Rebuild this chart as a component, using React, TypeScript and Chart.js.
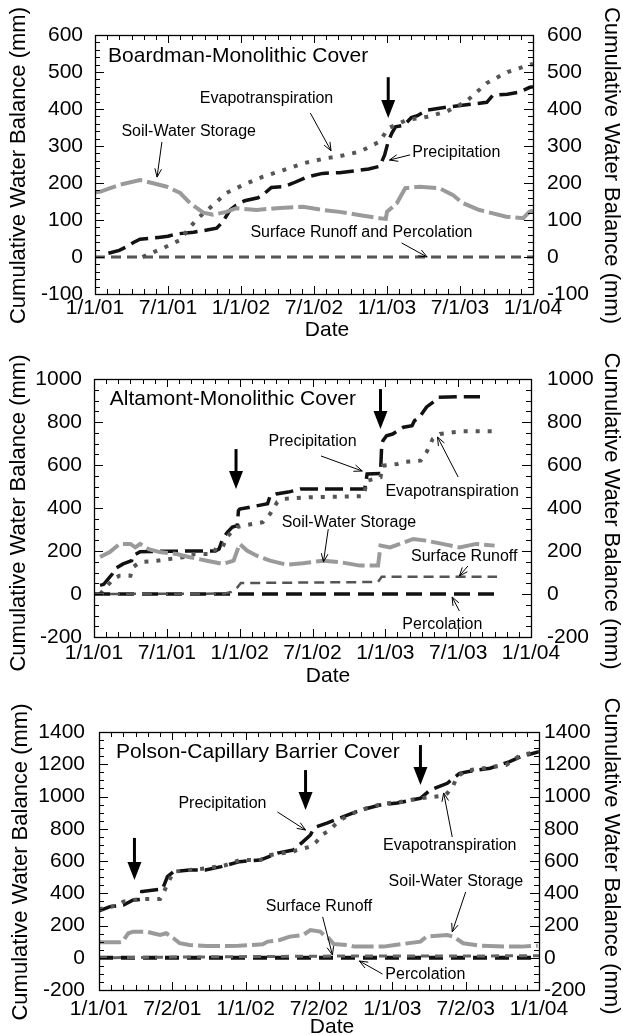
import React, { useEffect, useRef } from "react";
import { Chart, registerables } from "chart.js";

Chart.register(...registerables);

const FONT_FAMILY = "'Liberation Sans', Arial, Helvetica, sans-serif";

// ---------- shared text ----------
const xLabelsJul1 = ["1/1/01", "7/1/01", "1/1/02", "7/1/02", "1/1/03", "7/1/03", "1/1/04"];
const xLabelsJul2 = ["1/1/01", "7/2/01", "1/1/02", "7/2/02", "1/1/03", "7/2/03", "1/1/04"];
const yTitle = "Cumulative Water Balance (mm)";
const xTitle = "Date";

// x values are months since 1/1/01, y values are mm

// ---------- Boardman-Monolithic Cover ----------
const boardmanPrecipMonths = [1.1, 2.0, 2.6, 3.2, 3.7, 5.2, 6.0, 6.6, 8.1, 9.2, 10.0, 10.5, 11.1, 11.6, 12.3, 13.4, 13.8, 14.5, 15.5, 16.3, 17.4, 18.7, 20.1, 21.4, 22.5, 23.4, 23.8, 24.1, 24.4, 24.7, 25.4, 26.0, 26.5, 27.3, 28.9, 30.2, 31.0, 32.2, 32.7, 33.9, 34.9, 35.7, 36.0];
const boardmanPrecipMm = [10, 18, 28, 40, 48, 53, 56, 62, 67, 73, 78, 95, 127, 140, 152, 160, 168, 188, 190, 200, 216, 226, 228, 233, 238, 245, 275, 312, 335, 352, 356, 377, 382, 397, 405, 410, 413, 418, 437, 440, 446, 458, 460];
const boardmanEtMonths = [3.9, 5.6, 7.0, 7.8, 8.6, 9.7, 10.8, 12.2, 13.8, 15.5, 17.1, 19.0, 19.9, 21.8, 23.4, 24.1, 25.6, 27.3, 28.9, 30.5, 32.2, 33.9, 35.7, 36.0];
const boardmanEtMm = [0, 24, 46, 81, 109, 140, 173, 195, 217, 235, 253, 267, 271, 285, 312, 348, 370, 379, 393, 420, 470, 500, 519, 522];
const boardmanStorageMonths = [0, 0.4, 2.0, 3.7, 4.7, 5.9, 7.0, 7.8, 8.9, 9.7, 10.8, 11.6, 13.3, 14.9, 17.1, 18.8, 20.1, 21.8, 23.4, 23.9, 24.0, 24.8, 25.5, 26.7, 28.3, 29.4, 30.2, 31.6, 33.8, 35.2, 35.7, 36.0];
const boardmanStorageMm = [175, 176, 195, 208, 200, 190, 173, 146, 120, 114, 122, 132, 127, 132, 136, 127, 122, 113, 105, 103, 122, 145, 186, 190, 186, 168, 146, 127, 109, 105, 122, 125];
const boardmanRunoffMonths = [0, 36];
const boardmanRunoffMm = [0, 0];
const boardmanPercMonths = [0, 36];
const boardmanPercMm = [0, 0];

// ---------- Altamont-Monolithic Cover ----------
const altamontPrecipMonths = [0.5, 0.8, 1.5, 1.7, 2.4, 3.1, 3.2, 3.8, 4.9, 6.9, 8.1, 10.0, 10.3, 10.6, 11.0, 11.4, 11.8, 11.9, 12.0, 13.5, 14.3, 14.5, 15.0, 16.0, 17.0, 22.3, 22.5, 23.6, 23.7, 23.8, 24.1, 24.6, 25.5, 26.2, 26.4, 26.8, 27.4, 28.1, 28.4, 29.9, 31.8];
const altamontPrecipMm = [40, 45, 93, 116, 140, 155, 178, 197, 198, 199, 200, 200, 209, 256, 288, 311, 318, 388, 395, 411, 420, 455, 465, 474, 488, 488, 558, 560, 690, 713, 736, 744, 776, 783, 806, 822, 870, 899, 915, 918, 918];
const altamontEtMonths = [0.5, 1.0, 1.6, 2.1, 3.0, 3.2, 3.8, 5.2, 7.3, 7.9, 9.8, 10.1, 10.6, 10.9, 11.8, 12.3, 13.9, 14.5, 15.1, 15.6, 17.8, 19.5, 22.2, 22.5, 23.6, 23.8, 25.0, 25.5, 26.9, 27.4, 27.9, 28.5, 29.6, 30.4, 32.9];
const altamontEtMm = [0, 32, 70, 85, 85, 125, 148, 155, 171, 186, 186, 217, 217, 264, 311, 318, 334, 372, 428, 442, 450, 452, 455, 527, 543, 597, 605, 614, 620, 660, 721, 744, 752, 757, 757];
const altamontStorageMonths = [0.5, 1.3, 2.1, 3.0, 3.4, 3.8, 4.5, 5.4, 6.8, 7.9, 9.3, 10.6, 11.5, 12.0, 12.6, 13.4, 14.5, 15.9, 17.2, 18.9, 20.3, 21.9, 23.4, 23.6, 24.4, 25.2, 26.3, 27.4, 28.7, 30.1, 31.5, 33.0];
const altamontStorageMm = [172, 195, 233, 233, 217, 233, 209, 195, 186, 171, 155, 140, 155, 233, 202, 178, 155, 136, 143, 155, 148, 132, 132, 225, 217, 233, 256, 248, 233, 217, 233, 225];
const altamontRunoffMonths = [0, 10.8, 11.3, 11.8, 12.1, 23.4, 23.7, 33.2];
const altamontRunoffMm = [0, 2, 10, 30, 51, 56, 80, 80];
const altamontPercMonths = [0, 33.2];
const altamontPercMm = [0, 0];

// ---------- Polson-Capillary Barrier Cover ----------
const polsonPrecipMonths = [0, 0.9, 2.0, 2.8, 3.4, 3.5, 5.2, 5.6, 6.1, 7.4, 8.7, 10.0, 11.5, 13.2, 14.6, 15.9, 16.7, 17.3, 17.5, 17.8, 18.7, 20.0, 21.4, 23.0, 24.4, 26.3, 27.1, 28.5, 29.5, 30.9, 32.0, 33.6, 34.5, 36.0];
const polsonPrecipMm = [290, 317, 327, 358, 362, 410, 426, 503, 534, 544, 544, 565, 596, 606, 649, 668, 720, 761, 792, 813, 836, 875, 916, 947, 960, 989, 1040, 1082, 1144, 1164, 1175, 1216, 1247, 1278];
const polsonEtMonths = [0, 1.6, 2.0, 3.4, 5.0, 5.2, 5.5, 6.1, 7.4, 8.8, 10.4, 11.5, 13.2, 14.0, 15.9, 16.2, 17.3, 17.8, 18.3, 18.9, 19.5, 20.3, 21.4, 23.3, 24.2, 26.3, 28.2, 28.5, 29.0, 29.3, 30.1, 30.4, 33.3, 34.5, 36.0];
const polsonEtMm = [300, 327, 348, 365, 365, 389, 441, 534, 544, 555, 575, 606, 606, 637, 658, 668, 689, 720, 765, 792, 840, 880, 916, 957, 960, 989, 1005, 1020, 1071, 1123, 1164, 1164, 1195, 1257, 1278];
const polsonStorageMonths = [0, 1.7, 1.9, 2.4, 2.8, 3.9, 4.4, 5.0, 5.5, 6.1, 6.6, 7.4, 8.8, 10.5, 11.4, 13.4, 13.8, 14.8, 15.6, 16.7, 17.3, 18.1, 18.4, 18.8, 19.2, 20.3, 20.9, 23.3, 24.2, 26.3, 26.8, 28.5, 29.0, 29.8, 31.2, 33.3, 34.5, 35.9];
const polsonStorageMm = [96, 96, 98, 152, 162, 162, 152, 141, 152, 121, 90, 79, 73, 73, 75, 83, 100, 110, 131, 141, 172, 162, 141, 121, 85, 79, 69, 69, 79, 100, 131, 141, 131, 90, 75, 69, 69, 75];
const polsonRunoffMonths = [0, 6, 18, 36];
const polsonRunoffMm = [0, 4, 10, 12];
const polsonPercMonths = [0, 36];
const polsonPercMm = [0, 0];

// ---------- styles ----------
type LineStyle = { color: string; width: number; dash: number[] };
const precipStyle: LineStyle = { color: "#111111", width: 3.5, dash: [18, 7] };
const etStyle: LineStyle = { color: "#555555", width: 4, dash: [4, 8] };
const storageStyle: LineStyle = { color: "#9a9a9a", width: 4, dash: [22, 5] };
const runoffStyle: LineStyle = { color: "#555555", width: 2.5, dash: [10, 6] };
const percStyle: LineStyle = { color: "#111111", width: 2.5, dash: [10, 6] };
const percStyleHeavy: LineStyle = { color: "#111111", width: 3.5, dash: [16, 8] };
const runoffStyleLight: LineStyle = { color: "#666666", width: 3, dash: [8, 6] };

type SeriesDef = { label: string; months: number[]; mm: number[]; style: LineStyle };
type Note = { text: string; x: number; y: number; size: number; align: CanvasTextAlign };
type Pointer = { from: [number, number]; to: [number, number] };
type BigArrow = { x: number; top: number; tip: number };

type PanelCfg = {
  top: number; leftW: number; rightW: number; bottomH: number;
  yMin: number; yMax: number; yStep: number; yMinor: number;
  xLabels: string[];
  leftLabelPad: number; rightLabelPad: number; xLabelPad: number;
  leftTitleX: number; rightTitleX: number; leftTitleDy: number; rightTitleDy: number;
  dateX: number; dateY: number;
  series: SeriesDef[];
  notes: Note[]; pointers: Pointer[]; bigArrows: BigArrow[];
};

const boardman: PanelCfg = {
  top: 35, leftW: 95, rightW: 90, bottomH: 51,
  yMin: -100, yMax: 600, yStep: 100, yMinor: 20,
  xLabels: xLabelsJul1,
  leftLabelPad: 12, rightLabelPad: 14, xLabelPad: 2,
  leftTitleX: 19, rightTitleX: 611, leftTitleDy: 1, rightTitleDy: 1,
  dateX: 327, dateY: 330,
  series: [
    { label: "Soil-Water Storage", months: boardmanStorageMonths, mm: boardmanStorageMm, style: storageStyle },
    { label: "Surface Runoff", months: boardmanRunoffMonths, mm: boardmanRunoffMm, style: runoffStyle },
    { label: "Percolation", months: boardmanPercMonths, mm: boardmanPercMm, style: percStyle },
    { label: "Evapotranspiration", months: boardmanEtMonths, mm: boardmanEtMm, style: etStyle },
    { label: "Precipitation", months: boardmanPrecipMonths, mm: boardmanPrecipMm, style: precipStyle },
  ],
  notes: [
    { text: "Boardman-Monolithic Cover", x: 1.07, y: 543, size: 21, align: "left" },
    { text: "Evapotranspiration", x: 14.1, y: 427, size: 16, align: "center" },
    { text: "Soil-Water Storage", x: 7.7, y: 338, size: 16, align: "center" },
    { text: "Precipitation", x: 29.7, y: 281, size: 16, align: "center" },
    { text: "Surface Runoff and Percolation", x: 21.9, y: 65, size: 16, align: "center" },
  ],
  pointers: [
    { from: [17.7, 389], to: [19.4, 287] },
    { from: [5.5, 311], to: [5.1, 216] },
    { from: [25.9, 276], to: [24.2, 262] },
    { from: [25.2, 38], to: [27.3, 0] },
  ],
  bigArrows: [{ x: 24.1, top: 486, tip: 376 }],
};

const altamont: PanelCfg = {
  top: 34, leftW: 94, rightW: 92, bottomH: 53,
  yMin: -200, yMax: 1000, yStep: 200, yMinor: 50,
  xLabels: xLabelsJul1,
  leftLabelPad: 12, rightLabelPad: 16, xLabelPad: 4,
  leftTitleX: 19, rightTitleX: 611, leftTitleDy: 5, rightTitleDy: 3,
  dateX: 328, dateY: 331,
  series: [
    { label: "Soil-Water Storage", months: altamontStorageMonths, mm: altamontStorageMm, style: storageStyle },
    { label: "Surface Runoff", months: altamontRunoffMonths, mm: altamontRunoffMm, style: runoffStyle },
    { label: "Percolation", months: altamontPercMonths, mm: altamontPercMm, style: percStyleHeavy },
    { label: "Evapotranspiration", months: altamontEtMonths, mm: altamontEtMm, style: etStyle },
    { label: "Precipitation", months: altamontPrecipMonths, mm: altamontPrecipMm, style: precipStyle },
  ],
  notes: [
    { text: "Altamont-Monolithic Cover", x: 1.3, y: 907, size: 21, align: "left" },
    { text: "Precipitation", x: 18.0, y: 707, size: 16, align: "center" },
    { text: "Evapotranspiration", x: 29.5, y: 474, size: 16, align: "center" },
    { text: "Soil-Water Storage", x: 21.0, y: 330, size: 16, align: "center" },
    { text: "Surface Runoff", x: 30.5, y: 172, size: 16, align: "center" },
    { text: "Percolation", x: 28.7, y: -140, size: 16, align: "center" },
  ],
  pointers: [
    { from: [18.7, 642], to: [22.1, 572] },
    { from: [30.0, 544], to: [28.3, 730] },
    { from: [19.3, 302], to: [18.9, 149] },
    { from: [30.8, 130], to: [30.1, 84] },
    { from: [30.1, -79], to: [29.5, -14] },
  ],
  bigArrows: [
    { x: 11.7, top: 674, tip: 488 },
    { x: 23.6, top: 953, tip: 767 },
  ],
};

const polson: PanelCfg = {
  top: 42, leftW: 99, rightW: 84, bottomH: 45,
  yMin: -200, yMax: 1400, yStep: 200, yMinor: 50,
  xLabels: xLabelsJul2,
  leftLabelPad: 14, rightLabelPad: 5, xLabelPad: 7,
  leftTitleX: 21, rightTitleX: 611, leftTitleDy: 1, rightTitleDy: -5,
  dateX: 332, dateY: 337,
  series: [
    { label: "Soil-Water Storage", months: polsonStorageMonths, mm: polsonStorageMm, style: storageStyle },
    { label: "Surface Runoff", months: polsonRunoffMonths, mm: polsonRunoffMm, style: runoffStyleLight },
    { label: "Percolation", months: polsonPercMonths, mm: polsonPercMm, style: { color: "#111111", width: 4, dash: [14, 8] } },
    { label: "Evapotranspiration", months: polsonEtMonths, mm: polsonEtMm, style: etStyle },
    { label: "Precipitation", months: polsonPrecipMonths, mm: polsonPrecipMm, style: precipStyle },
  ],
  notes: [
    { text: "Polson-Capillary Barrier Cover", x: 1.4, y: 1276, size: 21, align: "left" },
    { text: "Precipitation", x: 10.1, y: 954, size: 16, align: "center" },
    { text: "Evapotranspiration", x: 28.7, y: 693, size: 16, align: "center" },
    { text: "Soil-Water Storage", x: 29.2, y: 470, size: 16, align: "center" },
    { text: "Surface Runoff", x: 18.0, y: 315, size: 16, align: "center" },
    { text: "Percolation", x: 26.7, y: -107, size: 16, align: "center" },
  ],
  pointers: [
    { from: [14.6, 904], to: [16.9, 792] },
    { from: [28.9, 749], to: [28.2, 1022] },
    { from: [30.0, 408], to: [28.9, 160] },
    { from: [18.3, 253], to: [19.1, 17] },
    { from: [23.2, -101], to: [21.3, -20] },
  ],
  bigArrows: [
    { x: 2.9, top: 743, tip: 482 },
    { x: 16.9, top: 1164, tip: 916 },
    { x: 26.3, top: 1319, tip: 1071 },
  ],
};

const decorPlugin = {
  id: "decor",
  afterDatasetsDraw(chart: any, _args: any, opts: any) {
    const cfg: PanelCfg = opts.cfg;
    if (!cfg) return;
    const { ctx, chartArea: a } = chart;
    const xs = chart.scales.x;
    const ys = chart.scales.y;
    const X = (m: number) => xs.getPixelForValue(m);
    const Y = (v: number) => ys.getPixelForValue(v);
    ctx.save();
    ctx.strokeStyle = "#000";
    ctx.fillStyle = "#000";
    ctx.setLineDash([]);

    // inward ticks
    ctx.lineWidth = 1;
    ctx.beginPath();
    for (let i = 0; i <= 36; i++) {
      const px = Math.round(X(i)) + 0.5;
      const len = i % 6 === 0 ? 8 : 5;
      ctx.moveTo(px, a.bottom);
      ctx.lineTo(px, a.bottom - len);
      ctx.moveTo(px, a.top);
      ctx.lineTo(px, a.top + len);
    }
    const nMinor = Math.round((cfg.yMax - cfg.yMin) / cfg.yMinor);
    const perMajor = Math.round(cfg.yStep / cfg.yMinor);
    for (let i = 0; i <= nMinor; i++) {
      const v = cfg.yMin + i * cfg.yMinor;
      const py = Math.round(Y(v)) + 0.5;
      const len = i % perMajor === 0 ? 9 : 5;
      ctx.moveTo(a.left, py);
      ctx.lineTo(a.left + len, py);
      ctx.moveTo(a.right, py);
      ctx.lineTo(a.right - len, py);
    }
    ctx.stroke();

    // frame
    ctx.lineWidth = 1.3;
    ctx.strokeRect(Math.round(a.left) + 0.5, Math.round(a.top) + 0.5, Math.round(a.right - a.left), Math.round(a.bottom - a.top));

    // text notes
    ctx.textBaseline = "middle";
    for (const n of cfg.notes) {
      ctx.font = `${n.size}px ${FONT_FAMILY}`;
      ctx.textAlign = n.align;
      ctx.fillText(n.text, X(n.x), Y(n.y));
    }

    // thin pointer arrows
    ctx.lineWidth = 1;
    for (const p of cfg.pointers) {
      const x1 = X(p.from[0]), y1 = Y(p.from[1]);
      const x2 = X(p.to[0]), y2 = Y(p.to[1]);
      ctx.beginPath();
      ctx.moveTo(x1, y1);
      ctx.lineTo(x2, y2);
      ctx.stroke();
      const ang = Math.atan2(y2 - y1, x2 - x1);
      const L = 9, w = 0.38;
      ctx.beginPath();
      ctx.moveTo(x2 - L * Math.cos(ang - w), y2 - L * Math.sin(ang - w));
      ctx.lineTo(x2, y2);
      ctx.lineTo(x2 - L * Math.cos(ang + w), y2 - L * Math.sin(ang + w));
      ctx.stroke();
    }

    // big down arrows
    for (const b of cfg.bigArrows) {
      const x = X(b.x), yt = Y(b.top), yp = Y(b.tip);
      const headH = 18, headW = 7;
      ctx.lineWidth = 3;
      ctx.beginPath();
      ctx.moveTo(x, yt);
      ctx.lineTo(x, yp - headH + 1);
      ctx.stroke();
      ctx.beginPath();
      ctx.moveTo(x - headW, yp - headH);
      ctx.lineTo(x + headW, yp - headH);
      ctx.lineTo(x, yp);
      ctx.closePath();
      ctx.fill();
    }

    // axis titles
    const cy = (a.top + a.bottom) / 2;
    ctx.font = `22px ${FONT_FAMILY}`;
    ctx.textAlign = "center";
    ctx.textBaseline = "middle";
    ctx.save();
    ctx.translate(cfg.leftTitleX, cy + cfg.leftTitleDy);
    ctx.rotate(-Math.PI / 2);
    ctx.fillText(yTitle, 0, 0);
    ctx.restore();
    ctx.save();
    ctx.translate(cfg.rightTitleX, cy + cfg.rightTitleDy);
    ctx.rotate(Math.PI / 2);
    ctx.fillText(yTitle, 0, 0);
    ctx.restore();
    ctx.font = `21px ${FONT_FAMILY}`;
    ctx.fillText(xTitle, cfg.dateX, cfg.dateY);

    ctx.restore();
  },
};

function Panel({ cfg }: { cfg: PanelCfg }) {
  const ref = useRef<HTMLCanvasElement>(null);
  useEffect(() => {
    if (!ref.current) return;
    const tickFont = { family: FONT_FAMILY, size: 21 };
    const yTicks = (pad: number) => ({
      stepSize: cfg.yStep,
      padding: pad,
      color: "#000",
      font: tickFont,
      callback: (v: any) => String(v),
    });
    const chart = new Chart(ref.current, {
      type: "line",
      data: {
        datasets: cfg.series.map((s) => ({
          label: s.label,
          data: s.months.map((m, i) => ({ x: m, y: s.mm[i] })),
          borderColor: s.style.color,
          borderWidth: s.style.width,
          borderDash: s.style.dash,
          borderCapStyle: "butt" as const,
          pointRadius: 0,
          pointHoverRadius: 0,
          fill: false,
          tension: 0,
        })),
      },
      options: {
        responsive: false,
        animation: false,
        devicePixelRatio: 1,
        events: [],
        layout: { padding: { top: cfg.top, left: 0, right: 0, bottom: 0 } },
        plugins: {
          legend: { display: false },
          tooltip: { enabled: false },
          decor: { cfg },
        } as any,
        scales: {
          x: {
            type: "linear",
            position: "bottom",
            min: 0,
            max: 36,
            grid: { display: false, drawTicks: false },
            border: { display: false },
            ticks: {
              stepSize: 6,
              autoSkip: false,
              maxRotation: 0,
              padding: cfg.xLabelPad,
              color: "#000",
              font: tickFont,
              callback: (v: any) => cfg.xLabels[Math.round(Number(v) / 6)] ?? "",
            },
            afterFit: (scale: any) => { scale.height = cfg.bottomH; },
          },
          y: {
            type: "linear",
            position: "left",
            min: cfg.yMin,
            max: cfg.yMax,
            grid: { display: false, drawTicks: false },
            border: { display: false },
            ticks: yTicks(cfg.leftLabelPad),
            afterFit: (scale: any) => { scale.width = cfg.leftW; },
          },
          y2: {
            type: "linear",
            position: "right",
            min: cfg.yMin,
            max: cfg.yMax,
            grid: { display: false, drawTicks: false },
            border: { display: false },
            ticks: yTicks(cfg.rightLabelPad),
            afterFit: (scale: any) => { scale.width = cfg.rightW; },
          },
        },
      } as any,
      plugins: [decorPlugin],
    });
    return () => chart.destroy();
  }, [cfg]);
  return <canvas ref={ref} width={623} height={345} style={{ display: "block", width: 623, height: 345 }} />;
}

export default function App() {
  return (
    <div style={{ position: "absolute", left: 0, top: 0, width: 623, height: 1035, overflow: "hidden", background: "#fff" }}>
      <Panel cfg={boardman} />
      <Panel cfg={altamont} />
      <Panel cfg={polson} />
    </div>
  );
}
